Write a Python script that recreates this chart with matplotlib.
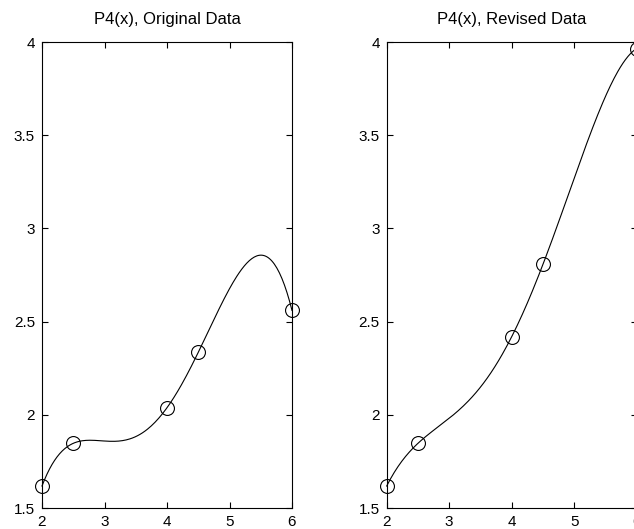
import numpy as np
import matplotlib
matplotlib.use("Agg")
import matplotlib.pyplot as plt

plt.rcParams['font.family'] = ['Liberation Sans', 'DejaVu Sans']

x_data = [2.0, 2.5, 4.0, 4.5, 6.0]
y_original = [1.618, 1.847, 2.038, 2.335, 2.56]
y_revised = [1.618, 1.847, 2.419, 2.807, 3.965]
titles = ["P4(x), Original Data", "P4(x), Revised Data"]
x_ticks = [2, 3, 4, 5, 6]
y_ticks = [1.5, 2, 2.5, 3, 3.5, 4]
y_tick_labels = ["1.5", "2", "2.5", "3", "3.5", "4"]

W, H = 634, 529
fig = plt.figure(figsize=(W / 100, H / 100), dpi=100)
positions = [[42 / W, 21 / H, 250 / W, 466 / H],
             [386.7 / W, 21 / H, 250 / W, 466 / H]]

for pos, ys, title in zip(positions, [y_original, y_revised], titles):
    ax = fig.add_axes(pos)
    coeffs = np.polyfit(x_data, ys, 4)
    xx = np.linspace(min(x_data), max(x_data), 200)
    ax.plot(xx, np.polyval(coeffs, xx), color='black', lw=0.8, clip_on=False)
    ax.plot(x_data, ys, 'o', mfc='none', mec='black', ms=10, mew=0.8, clip_on=False)
    ax.set_xlim(2, 6)
    ax.set_ylim(1.5, 4)
    ax.set_xticks(x_ticks)
    ax.set_yticks(y_ticks)
    ax.set_yticklabels(y_tick_labels)
    ax.tick_params(direction='in', length=4, width=0.8, top=True, right=True,
                   labelsize=11, pad=5, colors='black')
    for s in ax.spines.values():
        s.set_linewidth(0.8)
    ax.set_title(title, fontsize=12, pad=13)

fig.savefig("out.png", dpi=100)
